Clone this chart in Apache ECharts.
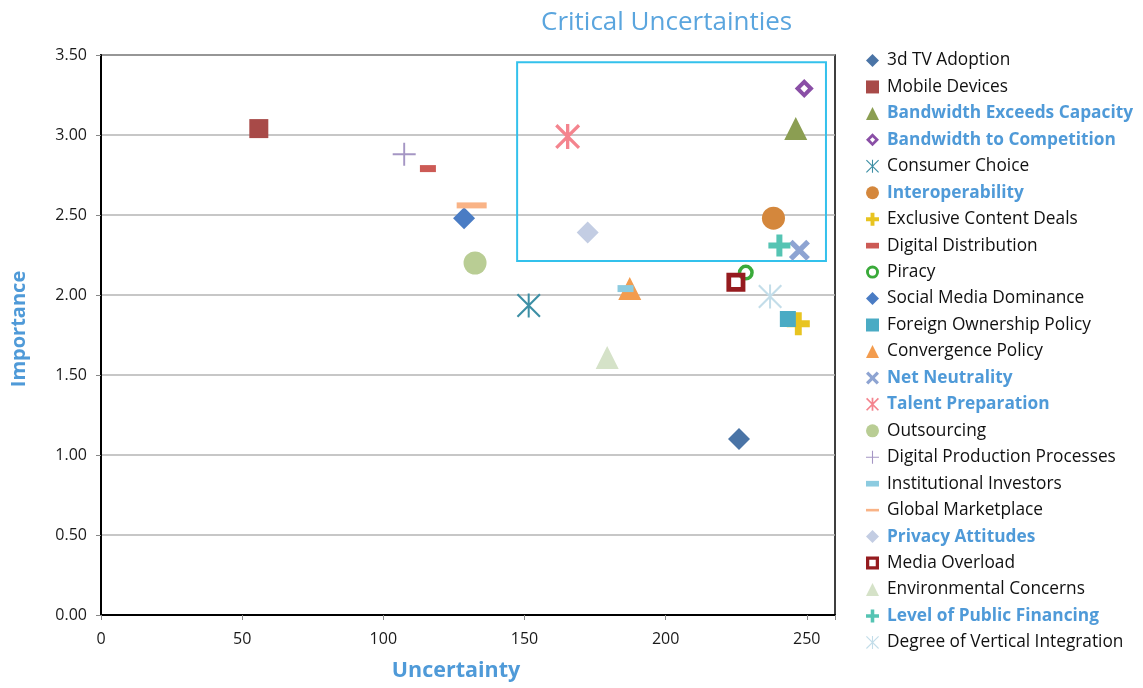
<!DOCTYPE html>
<html>
<head>
<meta charset="utf-8">
<script src="https://cdn.jsdelivr.net/npm/echarts@6/dist/echarts.min.js"></script>
<style>
html,body{margin:0;padding:0;background:#fff;}
#chart{width:1143px;height:688px;}
</style>
</head>
<body>
<div id="chart"></div>
<script>
// ---- data ----
const categories = [
  '3d TV Adoption', 'Mobile Devices', 'Bandwidth Exceeds Capacity', 'Bandwidth to Competition',
  'Consumer Choice', 'Interoperability', 'Exclusive Content Deals', 'Digital Distribution',
  'Piracy', 'Social Media Dominance', 'Foreign Ownership Policy', 'Convergence Policy',
  'Net Neutrality', 'Talent Preparation', 'Outsourcing', 'Digital Production Processes',
  'Institutional Investors', 'Global Marketplace', 'Privacy Attitudes', 'Media Overload',
  'Environmental Concerns', 'Level of Public Financing', 'Degree of Vertical Integration'
];
const uncertainty = [226, 55.9, 246.1, 249.1, 151.5, 238.2, 247, 115.8, 228.4, 128.6, 243.3, 187.3,
  247.4, 165.3, 132.5, 107.4, 185.8, 131.3, 172.4, 224.9, 179.3, 240.3, 237];
const importance = [1.10, 3.04, 3.04, 3.29, 1.935, 2.48, 1.82, 2.79, 2.14, 2.48, 1.85, 2.04,
  2.28, 2.99, 2.20, 2.88, 2.04, 2.56, 2.39, 2.08, 1.61, 2.31, 1.99];
const highlighted = ['Bandwidth Exceeds Capacity', 'Bandwidth to Competition', 'Interoperability',
  'Net Neutrality', 'Talent Preparation', 'Privacy Attitudes', 'Level of Public Financing'];
// highlight box corners [uncertainty, importance]
const highlightBox = [[147.4, 3.455], [256.8, 2.212]];
const xTicks = [0, 50, 100, 150, 200, 250];
const yTicks = [0, 0.5, 1, 1.5, 2, 2.5, 3, 3.5];

// ---- styles ----
const SYM = {
  asterisk: 'path://M11,0L13,0L13,24L11,24Z M0,1.5L1.5,0L24,22.5L22.5,24Z M22.5,0L24,1.5L1.5,24L0,22.5Z',
  asteriskBold: 'path://M10.4,0L13.6,0L13.6,24L10.4,24Z M0,2.2L2.2,0L24,21.8L21.8,24Z M21.8,0L24,2.2L2.2,24L0,21.8Z',
  plusThin: 'path://M11,0L13,0L13,11L24,11L24,13L13,13L13,24L11,24L11,13L0,13L0,11L11,11Z',
  plusThick: 'path://M8,0L14,0L14,8L22,8L22,14L14,14L14,22L8,22L8,14L0,14L0,8L8,8Z',
  plusChunky: 'path://M7.7,0L14.3,0L14.3,7.7L22,7.7L22,14.3L14.3,14.3L14.3,22L7.7,22L7.7,14.3L0,14.3L0,7.7L7.7,7.7Z',
  cross: 'path://M0,3.5L3.5,0L10,6.5L16.5,0L20,3.5L13.5,10L20,16.5L16.5,20L10,13.5L3.5,20L0,16.5L6.5,10Z',
  hollowSquare: 'path://M0,0L20,0L20,20L0,20Z M5,5L5,15L15,15L15,5Z',
  hollowDiamond: 'path://M10,0L20,10L10,20L0,10Z M10,6L6,10L10,14L14,10Z',
  ring: 'path://M0,10A10,10 0 1,1 20,10A10,10 0 1,1 0,10Z M4.4,10A5.6,5.6 0 1,0 15.6,10A5.6,5.6 0 1,0 4.4,10Z',
  dash: 'path://M0,0L16,0L16,7L0,7Z',
  dashLong: 'path://M0,0L30,0L30,6L0,6Z'
};
const markerStyles = [
  {symbol: 'diamond', size: 22, color: '#4a74a6'},
  {symbol: 'rect', size: 19, color: '#a84a48'},
  {symbol: 'triangle', size: 23, color: '#8b9e52'},
  {symbol: SYM.hollowDiamond, size: 19, color: '#8a4fa6'},
  {symbol: SYM.asterisk, size: 24, color: '#3d8fa5'},
  {symbol: 'circle', size: 23, color: '#d4873c'},
  {symbol: SYM.plusChunky, size: 23, color: '#e8c420'},
  {symbol: 'rect', size: [16, 7], color: '#cc5a55', icon: SYM.dash},
  {symbol: SYM.ring, size: 16, color: '#3aaa3a'},
  {symbol: 'diamond', size: 22, color: '#4a7cc4'},
  {symbol: 'rect', size: 16, color: '#4aabc4'},
  {symbol: 'triangle', size: 23, color: '#f39c4e'},
  {symbol: SYM.cross, size: 21, color: '#8ea4d2'},
  {symbol: SYM.asteriskBold, size: 25, color: '#f4848e'},
  {symbol: 'circle', size: 23, color: '#b9cd94'},
  {symbol: SYM.plusThin, size: 23, color: '#a596c4'},
  {symbol: 'rect', size: [16, 7], color: '#8ccbe0', icon: SYM.dash},
  {symbol: 'rect', size: [30, 6], color: '#f9b386', icon: SYM.dashLong},
  {symbol: 'diamond', size: 22, color: '#c3cde3'},
  {symbol: SYM.hollowSquare, size: 19, color: '#951b1f'},
  {symbol: 'triangle', size: 23, color: '#d5e2c8'},
  {symbol: SYM.plusThick, size: 22, color: '#55c4b3'},
  {symbol: SYM.asterisk, size: 24, color: '#c3dde9'}
];

const FONT = '"Open Sans", "Noto Sans", sans-serif';
const LEGEND_FS = 17.3;

const series = categories.map((name, i) => {
  const st = markerStyles[i];
  const s = {
    name: name,
    type: 'scatter',
    symbol: st.symbol,
    symbolSize: st.size,
    symbolKeepAspect: true,
    itemStyle: {color: st.color, opacity: 1},
    emphasis: {disabled: true},
    data: [[uncertainty[i], importance[i]]],
    z: 3
  };
  if (i === 0) {
    s.markArea = {
      silent: true,
      itemStyle: {color: 'rgba(0,0,0,0)', borderColor: '#33c1ec', borderWidth: 2},
      label: {show: false},
      data: [[{coord: highlightBox[0]}, {coord: highlightBox[1]}]]
    };
  }
  return s;
});

const legendData = categories.map((name, i) => {
  const st = markerStyles[i];
  return {name: name, icon: st.icon || st.symbol};
});

const chart = echarts.init(document.getElementById('chart'), null, {renderer: 'canvas'});
chart.setOption({
  backgroundColor: '#fff',
  animation: false,
  title: {
    text: 'Critical Uncertainties',
    left: 536, top: 5,
    textStyle: {fontFamily: FONT, fontSize: 26, fontWeight: 'normal', color: '#5aa5de'}
  },
  grid: {
    left: 101, right: 308, top: 55, bottom: 73,
    show: true, borderColor: '#000', borderWidth: 1.5, backgroundColor: '#fff'
  },
  legend: {
    orient: 'vertical',
    left: 861, top: 47, height: 640,
    itemWidth: 13, itemHeight: 13, itemGap: 9.45,
    selectedMode: false,
    data: legendData,
    formatter: name => highlighted.includes(name) ? '{b|' + name + '}' : '{n|' + name + '}',
    textStyle: {
      fontFamily: FONT, fontSize: LEGEND_FS, color: '#111',
      rich: {
        n: {fontFamily: FONT, fontSize: LEGEND_FS, color: '#111', padding: [0, 0, 0, 3]},
        b: {fontFamily: FONT, fontSize: LEGEND_FS, fontWeight: 'bold', color: '#4f9ad8', padding: [0, 0, 0, 3]}
      }
    }
  },
  xAxis: {
    type: 'value',
    min: 0, max: 260, interval: 50,
    name: 'Uncertainty',
    nameLocation: 'middle',
    nameGap: 45,
    nameTextStyle: {fontFamily: FONT, fontSize: 21.5, fontWeight: 'bold', color: '#4f9ad8', padding: [0, 24, 0, 0]},
    axisLine: {show: true, onZero: false, lineStyle: {color: '#000', width: 2}},
    axisTick: {show: true, length: 5, lineStyle: {color: '#888'}},
    axisLabel: {
      fontFamily: FONT, fontSize: 16, color: '#1a1a1a', margin: 16,
      formatter: v => xTicks.includes(v) ? String(v) : ''
    },
    splitLine: {show: false}
  },
  yAxis: {
    type: 'value',
    min: 0, max: 3.5, interval: 0.5,
    name: 'Importance',
    nameLocation: 'middle',
    nameGap: 72,
    nameTextStyle: {fontFamily: FONT, fontSize: 20, fontWeight: 'bold', color: '#4f9ad8', padding: [0, 0, 0, 12]},
    axisLine: {show: true, onZero: false, lineStyle: {color: '#000', width: 2}},
    axisTick: {show: true, length: 5, lineStyle: {color: '#888'}},
    axisLabel: {
      fontFamily: FONT, fontSize: 16, color: '#1a1a1a', margin: 14,
      formatter: v => yTicks.some(t => Math.abs(t - v) < 1e-9) ? v.toFixed(2) : ''
    },
    splitLine: {show: true, lineStyle: {color: '#b4b4b4', width: 1.5}}
  },
  series: series
});
</script>
</body>
</html>
